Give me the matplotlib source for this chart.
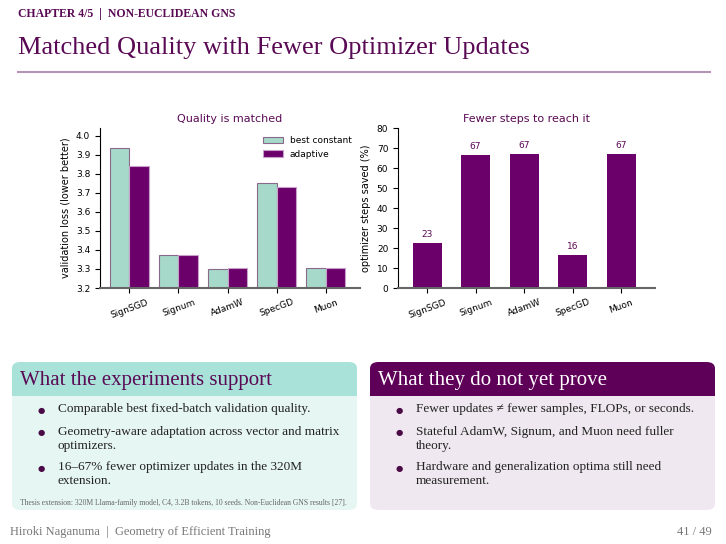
import matplotlib
matplotlib.use("Agg")
import matplotlib.pyplot as plt
import numpy as np
from matplotlib import patches

optimizers = ["SignSGD", "Signum", "AdamW", "SpecGD", "Muon"]
loss_constant = [3.935, 3.375, 3.298, 3.750, 3.303]
loss_adaptive = [3.840, 3.372, 3.305, 3.730, 3.306]
steps_saved = [22.7, 66.7, 67.2, 16.5, 67.0]
steps_labels = ["23", "67", "67", "16", "67"]

left_items = ["Comparable best fixed-batch validation quality.",
              "Geometry-aware adaptation across vector and matrix\noptimizers.",
              "16–67% fewer optimizer updates in the 320M\nextension."]
right_items = ["Fewer updates ≠ fewer samples, FLOPs, or seconds.",
               "Stateful AdamW, Signum, and Muon need fuller\ntheory.",
               "Hardware and generalization optima still need\nmeasurement."]

W, H = 726, 544
TEAL = "#a6d9c9"
PURPLE = "#6b006b"
DARK = "#5a0a55"
SERIF = ["Liberation Serif", "DejaVu Serif"]

fig = plt.figure(figsize=(7.26, 5.44), dpi=100)
fig.patch.set_facecolor("white")


def fx(x):
    return x / W


def fy(y):
    return 1 - y / H


# header
fig.text(fx(18), fy(14), "CHAPTER 4/5  |  NON-EUCLIDEAN GNS", family=SERIF, fontsize=8.5,
         color=DARK, weight="bold", va="center")
fig.text(fx(18), fy(48), "Matched Quality with Fewer Optimizer Updates", family=SERIF,
         fontsize=19, color=DARK, va="center")
fig.add_artist(plt.Line2D([fx(18), fx(710)], [fy(72), fy(72)], color="#b593b5", lw=1.5))

# left chart
x = np.arange(len(optimizers))
w = 0.4
ax1 = fig.add_axes([fx(100), fy(288), fx(260), (288 - 128) / H])
ax1.bar(x - w / 2, loss_constant, w, color=TEAL, edgecolor="#8a6a8a", linewidth=0.8, label="best constant")
ax1.bar(x + w / 2, loss_adaptive, w, color=PURPLE, edgecolor="#c9a0c9", linewidth=0.8, label="adaptive")
ax1.set_ylim(3.2, 4.04)
ax1.set_yticks(np.arange(3.2, 4.01, 0.1))
ax1.set_ylabel("validation loss (lower better)", fontsize=7)
ax1.set_title("Quality is matched", fontsize=8, color=DARK, pad=4)
ax1.legend(fontsize=6.5, frameon=False, loc="upper right", handlelength=2.2)

# right chart
ax2 = fig.add_axes([fx(398), fy(288), fx(257), (288 - 128) / H])
ax2.bar(x, steps_saved, 0.6, color=PURPLE)
for xi, v, s in zip(x, steps_saved, steps_labels):
    ax2.text(xi, v + 2, s, ha="center", va="bottom", fontsize=6.5, color=DARK)
ax2.set_ylim(0, 80)
ax2.set_yticks(range(0, 81, 10))
ax2.set_ylabel("optimizer steps saved (%)", fontsize=7)
ax2.set_title("Fewer steps to reach it", fontsize=8, color=DARK, pad=4)

for ax in (ax1, ax2):
    ax.set_xticks(x)
    ax.set_xticklabels(optimizers, rotation=20, fontsize=6.5)
    ax.tick_params(axis="y", labelsize=6.5)
    ax.spines["top"].set_visible(False)
    ax.spines["right"].set_visible(False)
    ax.spines["bottom"].set_color("#666666")
    ax.spines["bottom"].set_linewidth(1.5)
    ax.set_xlim(-0.6, 4.7)


def block(x0, x1, y0, yh, y1, title, items, head_col, body_col, title_col, bullet_col):
    body = patches.FancyBboxPatch((fx(x0), fy(y1)), fx(x1 - x0), (y1 - y0) / H,
                                  boxstyle="round,pad=0,rounding_size=0.012",
                                  transform=fig.transFigure, facecolor=body_col, edgecolor="none")
    fig.add_artist(body)
    head = patches.FancyBboxPatch((fx(x0), fy(yh)), fx(x1 - x0), (yh - y0) / H,
                                  boxstyle="round,pad=0,rounding_size=0.012",
                                  transform=fig.transFigure, facecolor=head_col, edgecolor="none")
    fig.add_artist(head)
    fig.add_artist(patches.Rectangle((fx(x0), fy(yh)), fx(x1 - x0), 8 / H,
                                     transform=fig.transFigure, facecolor=head_col, edgecolor="none"))
    fig.text(fx(x0 + 8), fy((y0 + yh) / 2 + 1), title, family=SERIF, fontsize=15,
             color=title_col, va="center")
    ys = [410, 433, 468]
    for yy, item in zip(ys, items):
        fig.text(fx(x0 + 29), fy(yy), "●", fontsize=6, color=bullet_col, va="center", ha="center")
        fig.text(fx(x0 + 46), fy(yy - 7), item, family=SERIF, fontsize=9.5, color="#222222",
                 va="top", linespacing=1.25)


block(12, 357, 362, 396, 510, "What the experiments support", left_items,
      "#a8e2d8", "#e6f6f3", DARK, "#4a0a45")
block(370, 715, 362, 396, 510, "What they do not yet prove", right_items,
      "#5e0058", "#f0e8f0", "white", "#4a0a45")

fig.text(fx(20), fy(503), "Thesis extension: 320M Llama-family model, C4, 3.2B tokens, 10 seeds. Non-Euclidean GNS results [27].",
         family=SERIF, fontsize=5.5, color="#666666", va="center")

# footer
fig.text(fx(10), fy(532), "Hiroki Naganuma  |  Geometry of Efficient Training", family=SERIF,
         fontsize=9, color="#777777", va="center")
fig.text(fx(712), fy(532), "41 / 49", family=SERIF, fontsize=9, color="#777777", va="center", ha="right")

fig.savefig("out.png", dpi=100)
